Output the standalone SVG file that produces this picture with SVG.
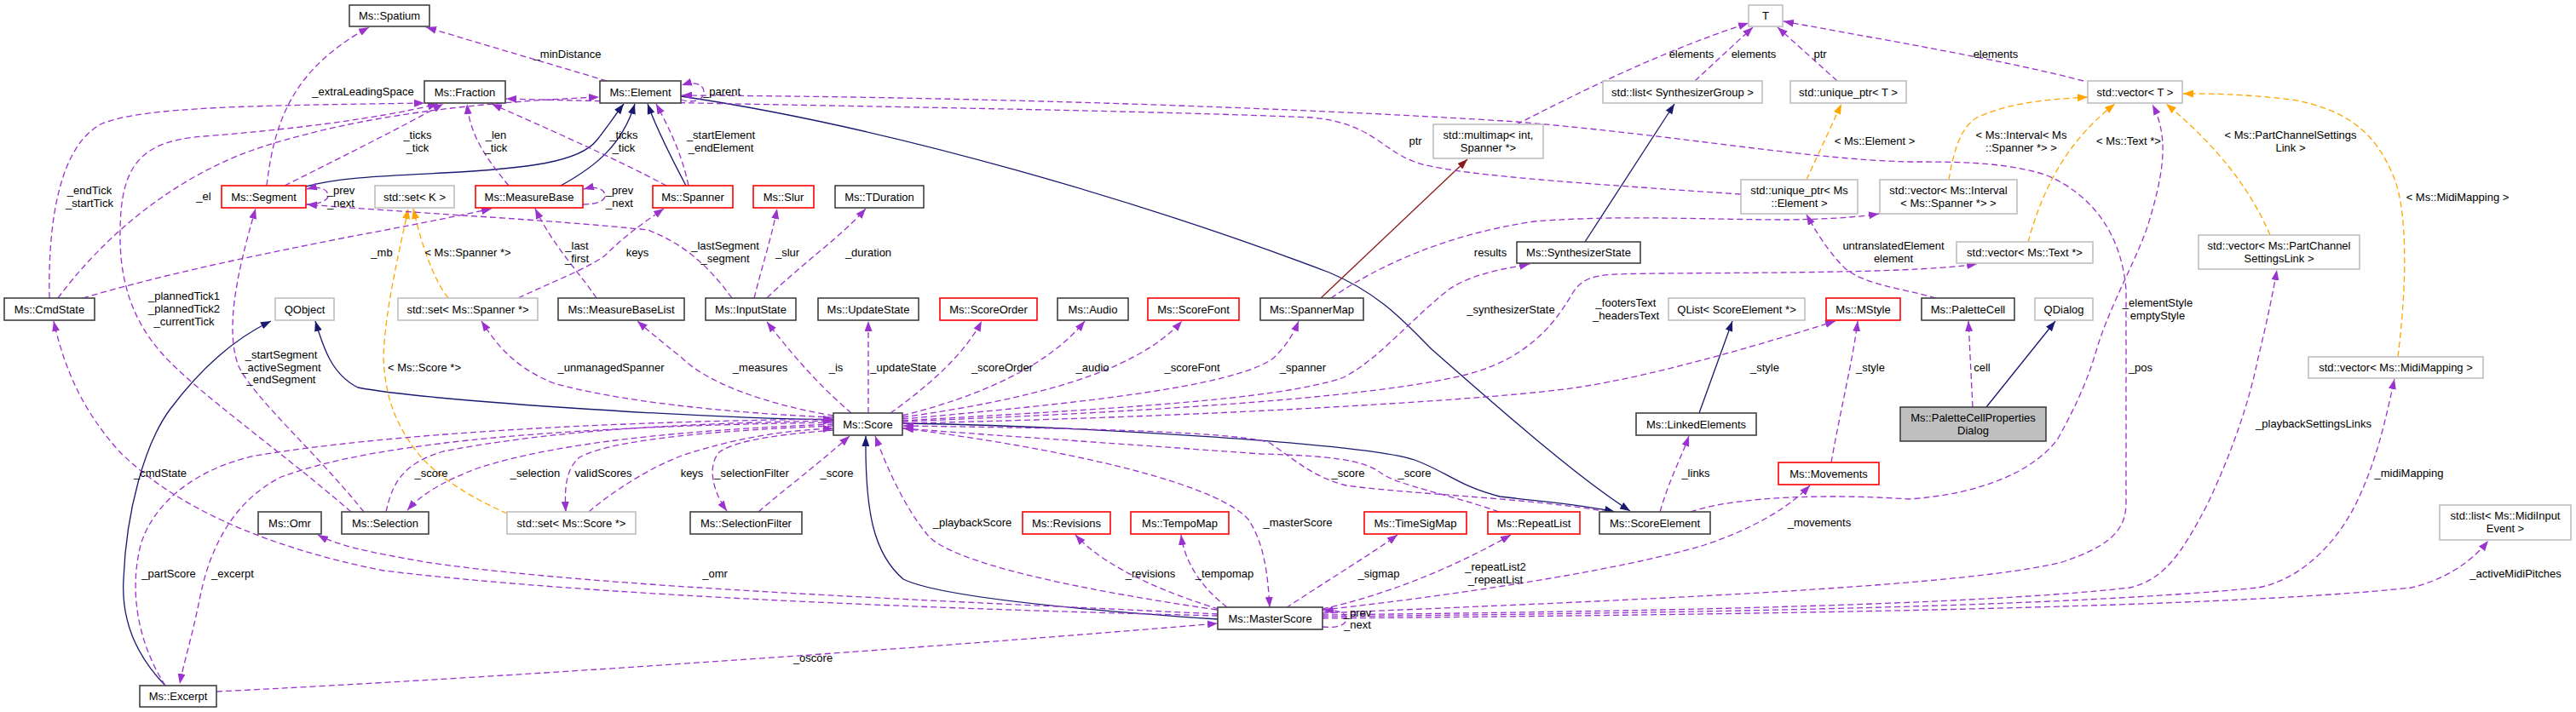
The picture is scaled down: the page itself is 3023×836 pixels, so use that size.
<svg xmlns="http://www.w3.org/2000/svg" width="3023" height="836" viewBox="0 0 3023 836">
<defs>
<style>
.bg{fill:#ffffff}
.nb rect{fill:#ffffff;stroke:#404040;stroke-width:1.6}
.ng rect{fill:#ffffff;stroke:#bfbfbf;stroke-width:1.6}
.nr rect{fill:#ffffff;stroke:#ff0000;stroke-width:1.6}
.nf rect{fill:#bfbfbf;stroke:#404040;stroke-width:1.6}
text{font-family:"Liberation Sans",Arial,sans-serif;font-size:13px;fill:#000000;text-anchor:middle}
.p{fill:none;stroke:#9a32cd;stroke-width:1.3;stroke-dasharray:7,4;marker-end:url(#ap)}
.o{fill:none;stroke:#ffa500;stroke-width:1.3;stroke-dasharray:7,4;marker-end:url(#ao)}
.b{fill:none;stroke:#191970;stroke-width:1.3;marker-end:url(#ab)}
.r{fill:none;stroke:#8b1a1a;stroke-width:1.3;marker-end:url(#ar)}
</style>
<marker id="ap" viewBox="0 0 10 10" refX="10" refY="5" markerWidth="12" markerHeight="9" orient="auto" markerUnits="userSpaceOnUse" preserveAspectRatio="none"><path d="M0,0 L10,5 L0,10 z" fill="#9a32cd"/></marker>
<marker id="ao" viewBox="0 0 10 10" refX="10" refY="5" markerWidth="12" markerHeight="9" orient="auto" markerUnits="userSpaceOnUse" preserveAspectRatio="none"><path d="M0,0 L10,5 L0,10 z" fill="#ffa500"/></marker>
<marker id="ab" viewBox="0 0 10 10" refX="10" refY="5" markerWidth="12" markerHeight="9" orient="auto" markerUnits="userSpaceOnUse" preserveAspectRatio="none"><path d="M0,0 L10,5 L0,10 z" fill="#191970"/></marker>
<marker id="ar" viewBox="0 0 10 10" refX="10" refY="5" markerWidth="12" markerHeight="9" orient="auto" markerUnits="userSpaceOnUse" preserveAspectRatio="none"><path d="M0,0 L10,5 L0,10 z" fill="#8b1a1a"/></marker>
</defs>
<rect class="bg" x="0" y="0" width="3023" height="836"/>

<g id="edges">
<!-- inheritance -->
<path class="b" d="M359,219 C400,208 450,207 520,203 C620,198 680,190 700,165 C712,150 722,135 732,122"/>
<path class="b" d="M658,218 C700,195 730,170 745,122"/>
<path class="b" d="M805,218 C785,180 770,150 760,122"/>
<path class="b" d="M799,113 C1050,150 1350,240 1560,320 C1620,345 1650,380 1680,410 C1760,480 1850,560 1913,600"/>
<path class="b" d="M1059,497 C1250,500 1600,520 1660,540 C1700,555 1710,570 1760,583 C1820,590 1860,593 1895,601"/>
<path class="b" d="M978,493 C800,490 500,470 420,455 C390,440 380,410 370,377"/>
<path class="b" d="M194,805 C160,770 142,730 145,680 C148,600 170,520 200,480 C230,440 270,400 318,377"/>
<path class="b" d="M1429,727 C1250,715 1100,700 1060,680 C1025,650 1015,600 1016,512"/>
<path class="b" d="M1994,485 L2033,377"/>
<path class="b" d="M1860,284 L1965,122"/>
<path class="b" d="M2331,478 L2412,377"/>
<path class="r" d="M1550,350 L1722,187"/>

<!-- template instances -->
<path class="o" d="M526,350 C510,330 495,290 485,245"/>
<path class="o" d="M595,603 C555,585 510,560 485,525 C460,490 452,460 450,420 C452,360 470,290 479,245"/>
<path class="o" d="M2120,211 L2161,122"/>
<path class="o" d="M2287,211 C2292,180 2300,150 2320,138 C2360,120 2400,117 2450,114"/>
<path class="o" d="M2380,284 C2395,230 2420,170 2482,122"/>
<path class="o" d="M2664,276 C2640,220 2600,170 2542,122"/>
<path class="o" d="M2814,419 C2825,330 2825,250 2810,210 C2790,160 2760,130 2690,117 C2630,110 2590,110 2562,110"/>

<!-- usage -->
<path class="p" d="M313,218 C322,140 345,80 433,32"/>
<path class="p" d="M712,95 L500,32"/>
<path class="p" d="M58,350 C56,260 70,170 120,145 C170,125 300,124 498,121"/>
<path class="p" d="M68,350 C120,280 200,210 300,175 C420,135 560,120 703,114"/>
<path class="p" d="M412,601 C330,530 230,460 190,415 C150,370 140,320 141,270 C142,200 160,165 240,160 C340,152 440,140 514,122"/>
<path class="p" d="M334,218 C400,185 470,150 520,122"/>
<path class="p" d="M597,218 C570,185 552,160 548,122"/>
<path class="p" d="M782,218 C720,185 640,150 577,122"/>
<path class="p" d="M808,218 C800,180 785,150 770,122"/>
<path class="p" d="M799,117 C815,122 826,117 826,108 C826,99 815,95 800,100"/>
<path class="p" d="M684,240 C700,240 710,236 710,230 C710,222 700,218 685,222"/>
<path class="p" d="M359,240 C375,240 385,235 385,230 C385,222 375,218 360,222"/>
<path class="p" d="M2043,228 C1850,215 1700,205 1660,190 C1620,175 1610,145 1540,138 C1300,128 900,124 594,116"/>
<path class="p" d="M1552,720 C1900,705 2300,690 2420,660 C2480,640 2495,620 2495,590 L2495,340 C2490,280 2460,230 2400,205 C2350,190 2300,190 2240,190 C2120,187 1980,160 1780,143 C1500,125 1100,113 800,112"/>
<path class="p" d="M1984,601 C2040,582 2150,580 2240,586 C2330,580 2390,550 2415,515 C2440,470 2452,440 2462,405 C2480,350 2510,300 2522,260 C2540,200 2545,160 2526,123"/>
<path class="p" d="M1552,722 C1900,718 2300,712 2500,690 C2540,680 2560,650 2590,593 C2620,530 2640,470 2650,420 C2660,380 2668,340 2672,317"/>
<path class="p" d="M1552,724 C1900,720 2400,715 2650,690 C2700,680 2740,640 2764,593 C2790,540 2800,490 2810,445"/>
<path class="p" d="M1552,726 C2000,722 2600,715 2830,690 C2870,680 2900,660 2920,635"/>
<path class="p" d="M1552,736 C1570,738 1580,733 1580,727 C1580,720 1570,715 1553,718"/>
<path class="p" d="M1552,716 C1700,700 1900,670 2000,640 C2060,620 2100,595 2124,570"/>
<path class="p" d="M1552,715 C1620,700 1700,670 1773,628"/>
<path class="p" d="M1509,714 C1560,680 1610,650 1640,628"/>
<path class="p" d="M1440,713 C1410,690 1390,660 1386,628"/>
<path class="p" d="M1430,715 C1380,700 1300,670 1262,628"/>
<path class="p" d="M1428,716 C1250,690 1120,660 1090,630 C1065,600 1045,560 1027,512"/>
<path class="p" d="M1059,503 C1200,520 1420,560 1465,610 C1485,640 1488,680 1490,713"/>
<path class="p" d="M254,812 C600,795 1100,760 1429,732"/>
<path class="p" d="M1429,721 C1100,705 700,690 500,660 C430,648 395,640 373,628"/>
<path class="p" d="M1429,723 C1100,715 700,700 450,670 C300,640 200,590 140,530 C95,480 75,430 63,377"/>
<path class="p" d="M194,805 C165,760 150,700 165,640 C180,590 230,550 300,535 C450,510 700,495 978,492"/>
<path class="p" d="M978,496 C700,500 450,515 330,560 C270,590 245,650 235,700 C225,750 215,780 211,803"/>
<path class="p" d="M453,601 C460,570 470,545 520,530 C650,505 800,497 978,494"/>
<path class="p" d="M978,498 C800,505 650,520 560,550 C520,565 495,580 478,599"/>
<path class="p" d="M978,500 C850,505 720,515 680,537 C665,550 662,570 664,601"/>
<path class="p" d="M691,601 C715,580 760,550 800,535 C860,515 920,505 978,503"/>
<path class="p" d="M978,505 C920,510 870,515 845,530 C830,545 835,575 853,600"/>
<path class="p" d="M890,601 C920,575 960,545 997,512"/>
<path class="p" d="M978,490 C850,485 720,470 650,450 C600,430 580,400 565,377"/>
<path class="p" d="M978,488 C900,475 830,450 800,420 C775,400 757,385 748,377"/>
<path class="p" d="M999,485 C970,460 940,430 900,378"/>
<path class="p" d="M1019,485 L1019,377"/>
<path class="p" d="M1045,485 C1080,460 1130,420 1152,377"/>
<path class="p" d="M1059,488 C1150,465 1230,430 1273,377"/>
<path class="p" d="M1059,490 C1200,470 1330,440 1387,377"/>
<path class="p" d="M1059,492 C1250,475 1450,455 1495,420 C1510,405 1518,392 1524,377"/>
<path class="p" d="M1059,494 C1300,480 1500,470 1577,443 C1620,420 1650,380 1700,340 C1730,320 1770,315 1795,310"/>
<path class="p" d="M1059,495 C1300,485 1600,470 1720,440 C1800,420 1830,370 1845,345 C1860,320 1880,322 1950,321 C2100,320 2250,320 2320,310"/>
<path class="p" d="M1059,497 C1400,490 1750,470 1850,455 C1950,440 2080,400 2154,377"/>
<path class="p" d="M2149,543 C2160,480 2175,420 2180,377"/>
<path class="p" d="M1948,601 C1960,560 1972,540 1982,512"/>
<path class="p" d="M1887,601 C1800,585 1650,580 1580,570 C1540,560 1520,540 1490,520 C1450,505 1200,502 1060,500"/>
<path class="p" d="M1759,601 C1700,580 1640,570 1620,555 C1600,540 1560,535 1480,533 C1300,520 1150,510 1060,503"/>
<path class="p" d="M2315,478 L2310,377"/>
<path class="p" d="M2272,350 C2230,338 2190,335 2165,315 C2145,295 2130,270 2120,252"/>
<path class="p" d="M1562,350 C1620,310 1700,275 1800,260 C1900,252 2000,258 2100,258 C2150,257 2180,255 2205,251"/>
<path class="p" d="M1780,146 C1850,110 1950,60 2052,27"/>
<path class="p" d="M1989,95 L2057,32"/>
<path class="p" d="M2156,95 L2086,32"/>
<path class="p" d="M2445,95 C2350,70 2200,45 2093,25"/>
<path class="p" d="M427,601 C370,530 300,470 280,430 C265,390 275,330 300,245"/>
<path class="p" d="M859,350 C830,310 800,285 760,270 C650,258 480,250 360,240"/>
<path class="p" d="M885,350 C895,310 905,280 912,245"/>
<path class="p" d="M900,350 C940,310 985,280 1016,245"/>
<path class="p" d="M97,350 C200,320 300,300 400,280 C480,265 530,255 577,245"/>
<path class="p" d="M608,350 C650,330 690,315 710,300 C730,280 750,265 779,245"/>
<path class="p" d="M700,350 C680,320 650,290 628,245"/>

<!-- edge labels -->
<text x="426" y="112">_extraLeadingSpace</text>
<text x="666" y="68">_minDistance</text>
<text x="105" y="228">_endTick</text><text x="105" y="243">_startTick</text>
<text x="239" y="235">_el</text>
<text x="216" y="352">_plannedTick1</text><text x="216" y="367">_plannedTick2</text><text x="216" y="382">_currentTick</text>
<text x="490" y="163">_ticks</text><text x="490" y="178">_tick</text>
<text x="582" y="163">_len</text><text x="582" y="178">_tick</text>
<text x="732" y="163">_ticks</text><text x="732" y="178">_tick</text>
<text x="846" y="163">_startElement</text><text x="846" y="178">_endElement</text>
<text x="847" y="112">_parent</text>
<text x="400" y="228">_prev</text><text x="400" y="243">_next</text>
<text x="727" y="228">_prev</text><text x="727" y="243">_next</text>
<text x="448" y="301">_mb</text>
<text x="549" y="301">&lt; Ms::Spanner *&gt;</text>
<text x="677" y="293">_last</text><text x="677" y="308">_first</text>
<text x="748" y="301">keys</text>
<text x="851" y="293">_lastSegment</text><text x="851" y="308">_segment</text>
<text x="924" y="301">_slur</text>
<text x="1019" y="301">_duration</text>
<text x="1661" y="170">ptr</text>
<text x="1985" y="68">elements</text>
<text x="2058" y="68">elements</text>
<text x="2136" y="68">ptr</text>
<text x="2342" y="68">elements</text>
<text x="1749" y="301">results</text>
<text x="2200" y="170">&lt; Ms::Element &gt;</text>
<text x="2372" y="163">&lt; Ms::Interval&lt; Ms</text><text x="2372" y="178">::Spanner *&gt; &gt;</text>
<text x="2498" y="170">&lt; Ms::Text *&gt;</text>
<text x="2688" y="163">&lt; Ms::PartChannelSettings</text><text x="2688" y="178">Link &gt;</text>
<text x="2884" y="236">&lt; Ms::MidiMapping &gt;</text>
<text x="2222" y="293">untranslatedElement</text><text x="2222" y="308">element</text>
<text x="2532" y="360">_elementStyle</text><text x="2532" y="375">emptyStyle</text>
<text x="1773" y="368">_synthesizerState</text>
<text x="1908" y="360">_footersText</text><text x="1908" y="375">_headersText</text>
<text x="330" y="421">_startSegment</text><text x="330" y="436">_activeSegment</text><text x="330" y="450">_endSegment</text>
<text x="498" y="436">&lt; Ms::Score *&gt;</text>
<text x="717" y="436">_unmanagedSpanner</text>
<text x="892" y="436">_measures</text>
<text x="981" y="436">_is</text>
<text x="1060" y="436">_updateState</text>
<text x="1176" y="436">_scoreOrder</text>
<text x="1282" y="436">_audio</text>
<text x="1399" y="436">_scoreFont</text>
<text x="1529" y="436">_spanner</text>
<text x="2071" y="436">_style</text>
<text x="2195" y="436">_style</text>
<text x="2326" y="436">cell</text>
<text x="2512" y="436">_pos</text>
<text x="2715" y="502">_playbackSettingsLinks</text>
<text x="188" y="560">_cmdState</text>
<text x="506" y="560">_score</text>
<text x="628" y="560">_selection</text>
<text x="708" y="560">validScores</text>
<text x="812" y="560">keys</text>
<text x="882" y="560">_selectionFilter</text>
<text x="982" y="560">_score</text>
<text x="1582" y="560">_score</text>
<text x="1660" y="560">_score</text>
<text x="1990" y="560">_links</text>
<text x="2827" y="560">_midiMapping</text>
<text x="1141" y="618">_playbackScore</text>
<text x="1523" y="618">_masterScore</text>
<text x="2135" y="618">_movements</text>
<text x="839" y="678">_omr</text>
<text x="198" y="678">_partScore</text>
<text x="273" y="678">_excerpt</text>
<text x="1350" y="678">_revisions</text>
<text x="1437" y="678">_tempomap</text>
<text x="1618" y="678">_sigmap</text>
<text x="1755" y="670">_repeatList2</text><text x="1755" y="685">_repeatList</text>
<text x="2952" y="678">_activeMidiPitches</text>
<text x="1593" y="724">_prev</text><text x="1593" y="738">_next</text>
<text x="954" y="777">_oscore</text>
</g>

<g id="spatium" class="nb"><rect x="410" y="6" width="94" height="25"/><text x="457" y="23">Ms::Spatium</text></g>
<g id="T" class="ng"><rect x="2052" y="6" width="40" height="25"/><text x="2072" y="23">T</text></g>
<g id="fraction" class="nb"><rect x="498" y="95" width="95" height="26"/><text x="545.5" y="113">Ms::Fraction</text></g>
<g id="element" class="nb"><rect x="704" y="95" width="95" height="26"/><text x="751.5" y="113">Ms::Element</text></g>
<g id="listsynth" class="ng"><rect x="1881" y="95" width="187" height="26"/><text x="1974.5" y="113">std::list&lt; SynthesizerGroup &gt;</text></g>
<g id="uniqueT" class="ng"><rect x="2101" y="95" width="136" height="26"/><text x="2169" y="113">std::unique_ptr&lt; T &gt;</text></g>
<g id="vectorT" class="ng"><rect x="2450" y="95" width="111" height="26"/><text x="2505.5" y="113">std::vector&lt; T &gt;</text></g>
<g id="multimap" class="ng"><rect x="1682" y="146" width="129" height="40"/><text x="1746.5" y="163">std::multimap&lt; int,</text><text x="1746.5" y="178">Spanner *&gt;</text></g>
<g id="segment" class="nr"><rect x="260" y="218" width="99" height="26"/><text x="309.5" y="236">Ms::Segment</text></g>
<g id="setK" class="ng"><rect x="440" y="218" width="93" height="26"/><text x="486.5" y="236">std::set&lt; K &gt;</text></g>
<g id="measurebase" class="nr"><rect x="558" y="218" width="126" height="26"/><text x="621" y="236">Ms::MeasureBase</text></g>
<g id="spanner" class="nr"><rect x="766" y="218" width="94" height="26"/><text x="813" y="236">Ms::Spanner</text></g>
<g id="slur" class="nr"><rect x="884" y="218" width="71" height="26"/><text x="919.5" y="236">Ms::Slur</text></g>
<g id="tduration" class="nb"><rect x="980" y="218" width="104" height="26"/><text x="1032" y="236">Ms::TDuration</text></g>
<g id="uniqueElem" class="ng"><rect x="2043" y="211" width="137" height="40"/><text x="2111.5" y="228">std::unique_ptr&lt; Ms</text><text x="2111.5" y="243">::Element &gt;</text></g>
<g id="vectorInterval" class="ng"><rect x="2206" y="211" width="161" height="40"/><text x="2286.5" y="228">std::vector&lt; Ms::Interval</text><text x="2286.5" y="243">&lt; Ms::Spanner *&gt; &gt;</text></g>
<g id="synthstate" class="nb"><rect x="1780" y="284" width="145" height="25"/><text x="1852.5" y="301">Ms::SynthesizerState</text></g>
<g id="vectorText" class="ng"><rect x="2296" y="284" width="160" height="25"/><text x="2376" y="301">std::vector&lt; Ms::Text *&gt;</text></g>
<g id="vectorPCSL" class="ng"><rect x="2580" y="276" width="189" height="40"/><text x="2674.5" y="293">std::vector&lt; Ms::PartChannel</text><text x="2674.5" y="308">SettingsLink &gt;</text></g>
<g id="cmdstate" class="nb"><rect x="5" y="350" width="106" height="26"/><text x="58" y="368">Ms::CmdState</text></g>
<g id="qobject" class="ng"><rect x="323" y="350" width="69" height="26"/><text x="357.5" y="368">QObject</text></g>
<g id="setSpanner" class="ng"><rect x="467" y="350" width="164" height="26"/><text x="549" y="368">std::set&lt; Ms::Spanner *&gt;</text></g>
<g id="measurebaselist" class="nb"><rect x="655" y="350" width="148" height="26"/><text x="729" y="368">Ms::MeasureBaseList</text></g>
<g id="inputstate" class="nb"><rect x="828" y="350" width="106" height="26"/><text x="881" y="368">Ms::InputState</text></g>
<g id="updatestate" class="nb"><rect x="960" y="350" width="118" height="26"/><text x="1019" y="368">Ms::UpdateState</text></g>
<g id="scoreorder" class="nr"><rect x="1103" y="350" width="114" height="26"/><text x="1160" y="368">Ms::ScoreOrder</text></g>
<g id="audio" class="nb"><rect x="1241" y="350" width="83" height="26"/><text x="1282.5" y="368">Ms::Audio</text></g>
<g id="scorefont" class="nr"><rect x="1347" y="350" width="107" height="26"/><text x="1400.5" y="368">Ms::ScoreFont</text></g>
<g id="spannermap" class="nb"><rect x="1479" y="350" width="121" height="26"/><text x="1539.5" y="368">Ms::SpannerMap</text></g>
<g id="qlist" class="ng"><rect x="1958" y="350" width="160" height="26"/><text x="2038" y="368">QList&lt; ScoreElement *&gt;</text></g>
<g id="mstyle" class="nr"><rect x="2143" y="350" width="87" height="26"/><text x="2186.5" y="368">Ms::MStyle</text></g>
<g id="palettecell" class="nb"><rect x="2255" y="350" width="109" height="26"/><text x="2309.5" y="368">Ms::PaletteCell</text></g>
<g id="qdialog" class="ng"><rect x="2388" y="350" width="68" height="26"/><text x="2422" y="368">QDialog</text></g>
<g id="vectorMidi" class="ng"><rect x="2709" y="419" width="205" height="25"/><text x="2811.5" y="436">std::vector&lt; Ms::MidiMapping &gt;</text></g>
<g id="pcpd" class="nf"><rect x="2230" y="478" width="171" height="40"/><text x="2315.5" y="495">Ms::PaletteCellProperties</text><text x="2315.5" y="510">Dialog</text></g>
<g id="score" class="nb"><rect x="978" y="485" width="81" height="26"/><text x="1018.5" y="503">Ms::Score</text></g>
<g id="linked" class="nb"><rect x="1920" y="485" width="141" height="26"/><text x="1990.5" y="503">Ms::LinkedElements</text></g>
<g id="movements" class="nr"><rect x="2087" y="543" width="118" height="26"/><text x="2146" y="561">Ms::Movements</text></g>
<g id="omr" class="nb"><rect x="303" y="601" width="74" height="26"/><text x="340" y="619">Ms::Omr</text></g>
<g id="selection" class="nb"><rect x="401" y="601" width="102" height="26"/><text x="452" y="619">Ms::Selection</text></g>
<g id="setScore" class="ng"><rect x="595" y="601" width="151" height="26"/><text x="670.5" y="619">std::set&lt; Ms::Score *&gt;</text></g>
<g id="selfilter" class="nb"><rect x="810" y="601" width="131" height="26"/><text x="875.5" y="619">Ms::SelectionFilter</text></g>
<g id="revisions" class="nr"><rect x="1200" y="601" width="103" height="26"/><text x="1251.5" y="619">Ms::Revisions</text></g>
<g id="tempomap" class="nr"><rect x="1327" y="601" width="115" height="26"/><text x="1384.5" y="619">Ms::TempoMap</text></g>
<g id="timesigmap" class="nr"><rect x="1601" y="601" width="120" height="26"/><text x="1661" y="619">Ms::TimeSigMap</text></g>
<g id="repeatlist" class="nr"><rect x="1746" y="601" width="108" height="26"/><text x="1800" y="619">Ms::RepeatList</text></g>
<g id="scoreelement" class="nb"><rect x="1877" y="601" width="130" height="26"/><text x="1942" y="619">Ms::ScoreElement</text></g>
<g id="listMidi" class="ng"><rect x="2863" y="593" width="154" height="41"/><text x="2940" y="610">std::list&lt; Ms::MidiInput</text><text x="2940" y="625">Event &gt;</text></g>
<g id="masterscore" class="nb"><rect x="1429" y="713" width="123" height="26"/><text x="1490.5" y="731">Ms::MasterScore</text></g>
<g id="excerpt" class="nb"><rect x="164" y="805" width="90" height="25"/><text x="209" y="822">Ms::Excerpt</text></g>
</svg>
